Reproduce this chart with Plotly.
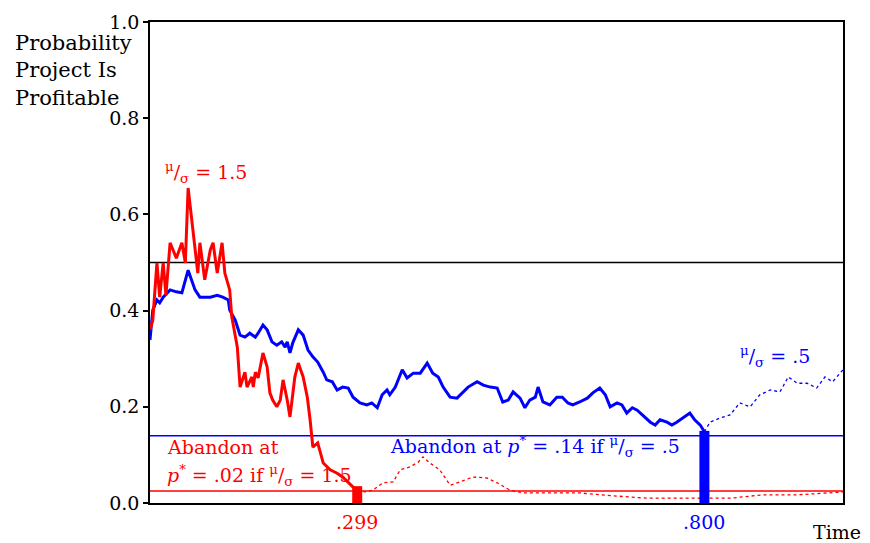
import plotly.graph_objects as go

# Red path (mu/sigma = 1.5): solid until abandonment at t = .299, dotted afterwards
red_t_solid = [0.000, 0.004, 0.010, 0.014, 0.019, 0.023, 0.029, 0.038, 0.046, 0.051, 0.055, 0.062,
               0.069, 0.072, 0.079, 0.087, 0.091, 0.097, 0.104, 0.108, 0.115, 0.118, 0.126, 0.130,
               0.137, 0.140, 0.147, 0.149, 0.152, 0.156, 0.163, 0.169, 0.173, 0.177, 0.183, 0.188,
               0.192, 0.198, 0.202, 0.209, 0.214, 0.221, 0.227, 0.231, 0.235, 0.242, 0.250, 0.260,
               0.270, 0.278, 0.293, 0.299]
red_v_solid = [0.360, 0.380, 0.499, 0.428, 0.499, 0.432, 0.541, 0.509, 0.541, 0.499, 0.655, 0.568,
               0.478, 0.541, 0.464, 0.526, 0.541, 0.478, 0.541, 0.478, 0.443, 0.387, 0.324, 0.241,
               0.272, 0.241, 0.262, 0.241, 0.272, 0.260, 0.312, 0.283, 0.229, 0.214, 0.200, 0.214,
               0.256, 0.214, 0.179, 0.262, 0.291, 0.262, 0.220, 0.173, 0.116, 0.125, 0.083, 0.069,
               0.062, 0.054, 0.033, 0.027]
red_t_dot = [0.299, 0.310, 0.322, 0.336, 0.351, 0.361, 0.375, 0.387, 0.394, 0.404, 0.418, 0.433,
             0.447, 0.466, 0.486, 0.501, 0.519, 0.538, 0.573, 0.620, 0.668, 0.717, 0.789, 0.837,
             0.885, 0.934, 0.957, 1.000]
red_v_dot = [0.027, 0.023, 0.027, 0.042, 0.044, 0.069, 0.075, 0.085, 0.096, 0.083, 0.069, 0.037,
             0.044, 0.054, 0.052, 0.042, 0.027, 0.021, 0.021, 0.021, 0.015, 0.010, 0.010, 0.010,
             0.017, 0.017, 0.019, 0.023]

# Blue path (mu/sigma = .5): solid until abandonment at t = .800, dotted afterwards
blue_t_solid = [0.000, 0.004, 0.010, 0.014, 0.019, 0.029, 0.038, 0.046, 0.055, 0.065, 0.072, 0.087,
                0.097, 0.105, 0.113, 0.115, 0.123, 0.130, 0.137, 0.144, 0.152, 0.156, 0.163, 0.169,
                0.176, 0.183, 0.190, 0.195, 0.198, 0.202, 0.206, 0.214, 0.221, 0.228, 0.235, 0.242,
                0.250, 0.255, 0.263, 0.270, 0.278, 0.286, 0.293, 0.303, 0.313, 0.320, 0.328, 0.335,
                0.342, 0.346, 0.354, 0.364, 0.371, 0.380, 0.390, 0.400, 0.408, 0.416, 0.423, 0.433,
                0.443, 0.450, 0.459, 0.472, 0.481, 0.491, 0.501, 0.509, 0.517, 0.524, 0.534, 0.541,
                0.548, 0.556, 0.560, 0.567, 0.577, 0.587, 0.595, 0.603, 0.610, 0.620, 0.631, 0.639,
                0.649, 0.657, 0.664, 0.674, 0.681, 0.688, 0.696, 0.703, 0.711, 0.722, 0.729, 0.736,
                0.746, 0.753, 0.760, 0.769, 0.779, 0.786, 0.794, 0.800]
blue_v_solid = [0.339, 0.401, 0.422, 0.416, 0.428, 0.443, 0.439, 0.437, 0.484, 0.443, 0.428, 0.428,
                0.432, 0.428, 0.422, 0.401, 0.380, 0.349, 0.345, 0.353, 0.345, 0.353, 0.370, 0.360,
                0.335, 0.328, 0.335, 0.324, 0.335, 0.312, 0.333, 0.360, 0.349, 0.318, 0.304, 0.293,
                0.272, 0.256, 0.252, 0.235, 0.241, 0.239, 0.220, 0.208, 0.204, 0.208, 0.198, 0.225,
                0.235, 0.225, 0.241, 0.277, 0.260, 0.270, 0.270, 0.291, 0.270, 0.262, 0.241, 0.220,
                0.218, 0.229, 0.241, 0.252, 0.245, 0.241, 0.239, 0.210, 0.214, 0.231, 0.218, 0.198,
                0.214, 0.220, 0.241, 0.210, 0.204, 0.220, 0.220, 0.208, 0.204, 0.210, 0.218, 0.229,
                0.239, 0.225, 0.200, 0.208, 0.204, 0.187, 0.198, 0.193, 0.183, 0.168, 0.162, 0.173,
                0.168, 0.162, 0.168, 0.177, 0.187, 0.173, 0.162, 0.148]
blue_t_dot = [0.800, 0.808, 0.823, 0.837, 0.851, 0.866, 0.880, 0.895, 0.909, 0.921, 0.934, 0.948,
              0.962, 0.974, 0.985, 1.000]
blue_v_dot = [0.148, 0.168, 0.177, 0.183, 0.208, 0.200, 0.225, 0.235, 0.231, 0.262, 0.249, 0.249,
              0.239, 0.262, 0.252, 0.277]

# Thresholds and abandonment times
red_threshold = 0.025
blue_threshold = 0.14
half_line = 0.5
red_abandon_t = 0.299
blue_abandon_t = 0.800
red_bar_top = 0.035
blue_bar_top = 0.15

y_ticks = [0.0, 0.2, 0.4, 0.6, 0.8, 1.0]
y_tick_text = ["0.0", "0.2", "0.4", "0.6", "0.8", "1.0"]

RED = "#ff0000"
BLUE = "#0000ff"
FONT = "DejaVu Serif"

fig = go.Figure()

# Horizontal reference lines
for yv, col, w in [(half_line, "black", 1.5), (blue_threshold, BLUE, 1.5), (red_threshold, RED, 1.5)]:
    fig.add_trace(go.Scatter(x=[0, 1], y=[yv, yv], mode="lines",
                             line=dict(color=col, width=w), hoverinfo="skip"))

fig.add_trace(go.Scatter(x=red_t_dot, y=red_v_dot, mode="lines",
                         line=dict(color=RED, width=1.3, dash="dot")))
fig.add_trace(go.Scatter(x=blue_t_dot, y=blue_v_dot, mode="lines",
                         line=dict(color=BLUE, width=1.3, dash="dot")))
fig.add_trace(go.Scatter(x=blue_t_solid, y=blue_v_solid, mode="lines",
                         line=dict(color=BLUE, width=3)))
fig.add_trace(go.Scatter(x=red_t_solid, y=red_v_solid, mode="lines",
                         line=dict(color=RED, width=3)))

# Abandonment bars
fig.add_trace(go.Scatter(x=[red_abandon_t, red_abandon_t], y=[-0.01, red_bar_top], mode="lines",
                         line=dict(color=RED, width=10), cliponaxis=False))
fig.add_trace(go.Scatter(x=[blue_abandon_t, blue_abandon_t], y=[-0.01, blue_bar_top], mode="lines",
                         line=dict(color=BLUE, width=10), cliponaxis=False))

ann = []
ann.append(dict(x=0.019, y=0.688, xref="x", yref="y", xanchor="left", yanchor="middle",
                text="<sup>μ</sup>/<sub>σ</sub> = 1.5", font=dict(color=RED, size=19, family=FONT),
                showarrow=False))
ann.append(dict(x=0.848, y=0.305, xref="x", yref="y", xanchor="left", yanchor="middle",
                text="<sup>μ</sup>/<sub>σ</sub> = .5", font=dict(color=BLUE, size=19, family=FONT),
                showarrow=False))
ann.append(dict(x=0.343, y=0.118, xref="x", yref="y", xanchor="left", yanchor="middle",
                text="Abandon at <i>p</i><sup>*</sup> = .14 if <sup>μ</sup>/<sub>σ</sub> = .5",
                font=dict(color=BLUE, size=19, family=FONT), showarrow=False))
ann.append(dict(x=0.022, y=0.116, xref="x", yref="y", xanchor="left", yanchor="middle",
                text="Abandon at", font=dict(color=RED, size=19, family=FONT), showarrow=False))
ann.append(dict(x=0.022, y=0.058, xref="x", yref="y", xanchor="left", yanchor="middle",
                text="<i>p</i><sup>*</sup> = .02 if <sup>μ</sup>/<sub>σ</sub> = 1.5",
                font=dict(color=RED, size=19, family=FONT), showarrow=False))
ann.append(dict(x=red_abandon_t, y=-0.04, xref="x", yref="paper", xanchor="center", yanchor="middle",
                text=".299", font=dict(color=RED, size=19, family=FONT), showarrow=False))
ann.append(dict(x=blue_abandon_t, y=-0.04, xref="x", yref="paper", xanchor="center", yanchor="middle",
                text=".800", font=dict(color=BLUE, size=19, family=FONT), showarrow=False))
ann.append(dict(x=0.991, y=-0.06, xref="paper", yref="paper", xanchor="center", yanchor="middle",
                text="Time", font=dict(color="black", size=19, family=FONT), showarrow=False))
ann.append(dict(x=-0.197, y=0.985, xref="paper", yref="paper", xanchor="left", yanchor="top",
                align="left", text="Probability<br>Project Is<br>Profitable",
                font=dict(color="black", size=21, family=FONT), showarrow=False))

fig.update_layout(
    width=862, height=535,
    margin=dict(l=142, r=27, t=14, b=40),
    plot_bgcolor="white", paper_bgcolor="white",
    showlegend=False,
    annotations=ann,
    xaxis=dict(range=[0, 1], showgrid=False, zeroline=False, showticklabels=False, ticks="",
               showline=True, linecolor="black", linewidth=1.5, mirror=True, fixedrange=True,
               automargin=False),
    yaxis=dict(range=[0, 1], showgrid=False, zeroline=False, tickvals=y_ticks, ticktext=y_tick_text,
               ticks="outside", ticklen=5, tickcolor="black", tickwidth=1.5,
               tickfont=dict(family=FONT, size=19, color="black"),
               showline=True, linecolor="black", linewidth=1.5, mirror=True, fixedrange=True,
               automargin=False),
)

fig.write_html("out.html")
